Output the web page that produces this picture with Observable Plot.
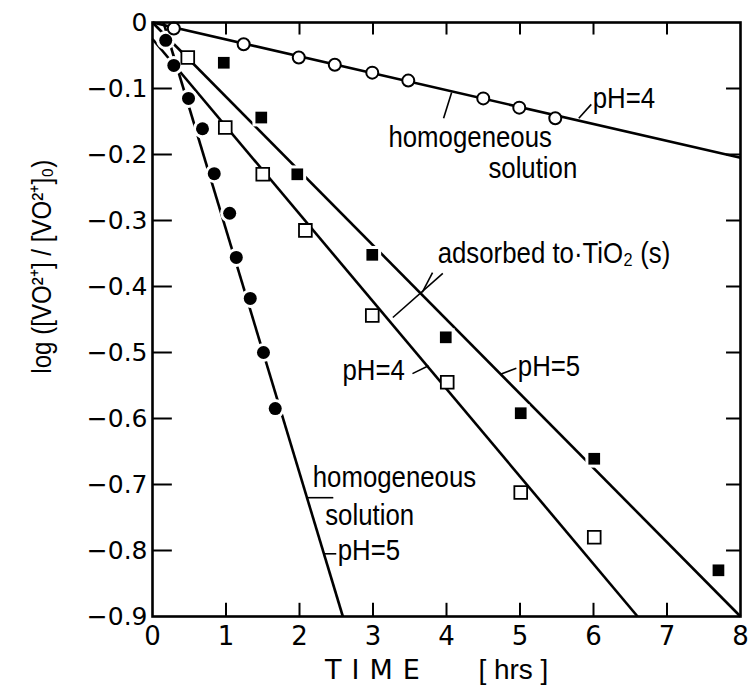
<!DOCTYPE html>
<html><head><meta charset="utf-8">
<script src="https://cdn.jsdelivr.net/npm/d3@7"></script>
<script src="https://cdn.jsdelivr.net/npm/@observablehq/plot@0.6"></script>
<style>html,body{margin:0;padding:0;background:#fff}</style>
</head><body><div id="chart"></div>
<script>
// ---- data (time in hrs, log ratio) ----
const homogPH4_t = [0.29, 1.24, 1.99, 2.48, 2.99, 3.48, 4.50, 4.99, 5.48];
const homogPH4_v = [-0.009, -0.033, -0.053, -0.064, -0.076, -0.088, -0.115, -0.129, -0.145];

const adsPH5_t = [0.97, 1.48, 1.97, 2.99, 3.99, 5.01, 6.01, 7.70];
const adsPH5_v = [-0.061, -0.144, -0.230, -0.352, -0.477, -0.592, -0.661, -0.830];

const adsPH4_t = [0.48, 0.99, 1.50, 2.08, 2.99, 4.01, 5.01, 6.01];
const adsPH4_v = [-0.053, -0.159, -0.230, -0.315, -0.444, -0.545, -0.712, -0.780];

const homogPH5_t = [0.18, 0.29, 0.49, 0.68, 0.84, 1.05, 1.14, 1.33, 1.51, 1.67];
const homogPH5_v = [-0.027, -0.065, -0.115, -0.161, -0.229, -0.289, -0.356, -0.418, -0.500, -0.585];

// fitted straight lines (start / end points)
const fitSeries = ["homogPH4", "adsPH5", "adsPH4", "homogPH5"];
const fitX1 = [0, 0, 0, 0.15];
const fitY1 = [0, 0, -0.025, 0];
const fitX2 = [8, 8, 6.6, 2.59];
const fitY2 = [-0.205, -0.9, -0.9, -0.9];

// ticks
const xTicks = [0, 1, 2, 3, 4, 5, 6, 7, 8];
const yTicks = [0, -0.1, -0.2, -0.3, -0.4, -0.5, -0.6, -0.7, -0.8, -0.9];

// annotation texts and their anchor points
const noteText = ["pH=4", "homogeneous", "solution", "adsorbed to·TiO\u2082 (s)", "pH=4", "pH=5", "homogeneous", "solution", "pH=5"];
const noteX = [5.99, 3.21, 4.57, 3.88, 2.585, 4.97, 2.18, 2.35, 2.52];
const noteY = [-0.130, -0.189, -0.236, -0.365, -0.542, -0.536, -0.704, -0.762, -0.815];

// leader lines
const leadX1 = [5.80, 3.96, 3.95, 3.81, 3.537, 4.735, 2.11, 2.34];
const leadY1 = [-0.145, -0.145, -0.380, -0.379, -0.532, -0.533, -0.720, -0.805];
const leadX2 = [5.97, 4.07, 3.27, 3.67, 3.755, 4.95, 2.46, 2.50];
const leadY2 = [-0.124, -0.106, -0.447, -0.409, -0.520, -0.524, -0.720, -0.805];

const yLabel = "log ([VO\u00B2\u207A] / [VO\u00B2\u207A]\u2080)";
const xLabel1 = "TIME";
const xLabel2 = "[ hrs ]";

// ---- build tables ----
const rows = (t, v) => t.map((x, i) => ({t: x, v: v[i]}));
const sHomog4 = rows(homogPH4_t, homogPH4_v);
const sAds5 = rows(adsPH5_t, adsPH5_v);
const sAds4 = rows(adsPH4_t, adsPH4_v);
const sHomog5 = rows(homogPH5_t, homogPH5_v);
const fits = fitSeries.map((s, i) => ({s, x1: fitX1[i], y1: fitY1[i], x2: fitX2[i], y2: fitY2[i]}));
const notes = noteText.map((text, i) => ({text, x: noteX[i], y: noteY[i]}));
const leads = leadX1.map((x1, i) => ({x1, y1: leadY1[i], x2: leadX2[i], y2: leadY2[i]}));
const xInner = xTicks.slice(1, -1);
const yInner = yTicks.slice(1, -1);

const sans = "'Liberation Sans', Arial, sans-serif";

const svg = Plot.plot({
  width: 750, height: 694,
  marginLeft: 152, marginRight: 10, marginTop: 22, marginBottom: 78,
  x: {domain: [0, 8]},
  y: {domain: [-0.9, 0]},
  style: {fontFamily: "'DejaVu Sans', sans-serif", fontSize: "25px", background: "white", color: "black"},
  marks: [
    // inner tick marks
    Plot.ruleY(yInner, {y: d => d, x1: 0, x2: 0.27, stroke: "black", strokeWidth: 2}),
    Plot.ruleY(yInner, {y: d => d, x1: 7.81, x2: 8, stroke: "black", strokeWidth: 2}),
    Plot.ruleX(xInner, {x: d => d, y1: -0.9, y2: -0.88, stroke: "black", strokeWidth: 2}),
    Plot.ruleX(xInner, {x: d => d, y1: 0, y2: -0.019, stroke: "black", strokeWidth: 2}),
    // axes labels
    Plot.axisY({ticks: yTicks, tickSize: 0, tickPadding: 5, label: null,
      tickFormat: d => d === 0 ? "0" : d3.format(".1f")(d), fontSize: 25}),
    Plot.axisX({ticks: xTicks, tickSize: 0, tickPadding: 10, label: null,
      tickFormat: d => String(d), fontSize: 26}),
    // fitted lines
    Plot.link(fits, {x1: "x1", y1: "y1", x2: "x2", y2: "y2", stroke: "black", strokeWidth: 2.6}),
    // leaders
    Plot.link(leads, {x1: "x1", y1: "y1", x2: "x2", y2: "y2", stroke: "black", strokeWidth: 1.6}),
    // halos for filled markers
    Plot.dot(sHomog5, {x: "t", y: "v", r: 9.5, fill: "white"}),
    Plot.dot(sAds5, {x: "t", y: "v", r: 10, symbol: "square", fill: "white"}),
    // markers
    Plot.dot(sHomog4, {x: "t", y: "v", r: 6, fill: "white", stroke: "black", strokeWidth: 2}),
    Plot.dot(sAds4, {x: "t", y: "v", r: 7.2, symbol: "square", fill: "white", stroke: "black", strokeWidth: 1.8}),
    Plot.dot(sAds5, {x: "t", y: "v", r: 6.6, symbol: "square", fill: "black"}),
    Plot.dot(sHomog5, {x: "t", y: "v", r: 6.5, fill: "black"}),
    // annotations
    Plot.text(notes, {x: "x", y: "y", text: "text", textAnchor: "start", lineAnchor: "bottom",
      fontFamily: sans, fontSize: 30, fill: "black"}),
    // axis titles
    Plot.text([yLabel], {frameAnchor: "left", y: () => -0.37, dx: -110, rotate: -90,
      textAnchor: "middle", text: d => d, fontFamily: sans, fontSize: 28, fill: "black"}),
    Plot.text([xLabel1], {frameAnchor: "bottom", x: () => 3.06, dy: 62, text: d => d,
      fontFamily: "'DejaVu Sans', sans-serif", fontSize: 27, fill: "black"}),
    Plot.text([xLabel2], {frameAnchor: "bottom", x: () => 4.91, dy: 62, text: d => d,
      fontFamily: sans, fontSize: 28, fill: "black"}),
    Plot.frame({stroke: "black", strokeWidth: 2.6})
  ]
});
const narrowSet = new Set([...noteText, yLabel]);
d3.select(svg).selectAll("text").each(function () {
  const t = this.textContent;
  if (t === "TIME") this.setAttribute("letter-spacing", "10px");
  if (narrowSet.has(t)) {
    const tr = this.getAttribute("transform") || "";
    this.setAttribute("transform", tr + " scale(0.86,1)");
  }
});
document.getElementById("chart").appendChild(svg);
</script>
</body></html>
